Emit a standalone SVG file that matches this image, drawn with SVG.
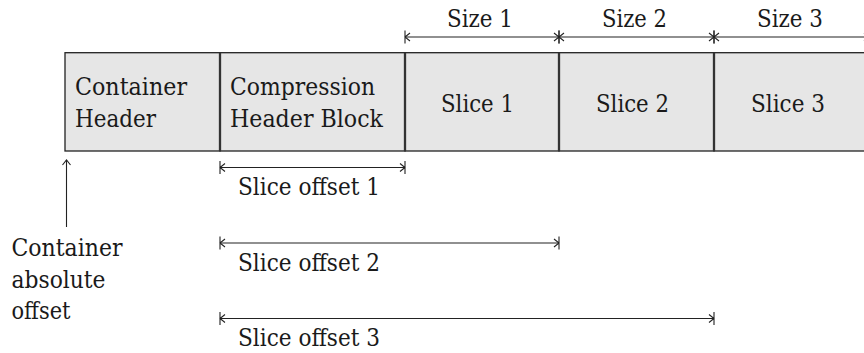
<svg xmlns="http://www.w3.org/2000/svg" width="864" height="353" viewBox="0 0 864 353">
<defs>
<marker id="bartip" markerUnits="userSpaceOnUse" viewBox="-10 -10 20 20" markerWidth="20" markerHeight="20" refX="0" refY="0" orient="auto-start-reverse">
<path d="M0,-6.5 V6.5 M-5,-4 Q-1.5,-1.2 0,0 Q-1.5,1.2 -5,4" fill="none" stroke="#222" stroke-width="1.1"/>
</marker>
<marker id="tip" markerUnits="userSpaceOnUse" viewBox="-10 -10 20 20" markerWidth="20" markerHeight="20" refX="0" refY="0" orient="auto">
<path d="M-5,-4 Q-1.5,-1.2 0,0 Q-1.5,1.2 -5,4" fill="none" stroke="#222" stroke-width="1.1"/>
</marker>
</defs>
<style>
text{font-size:23.5px;fill:#1a1a1a}
.cell{fill:#e6e6e6;stroke:#222;stroke-width:1.3}
.div{stroke:#333;stroke-width:2.3}
.dim{stroke:#222;stroke-width:1.1;fill:none;marker-start:url(#bartip);marker-end:url(#bartip)}
</style>
<rect width="864" height="353" fill="#fff"/>
<g font-family="DejaVu Serif, serif">
<g id="container-header">
<rect class="cell" x="65" y="52.7" width="155" height="98.3"/>
<text x="75" y="95" textLength="112" lengthAdjust="spacingAndGlyphs">Container</text>
<text x="75" y="127.3" textLength="81" lengthAdjust="spacingAndGlyphs">Header</text>
</g>
<g id="compression-header-block">
<rect class="cell" x="220" y="52.7" width="185" height="98.3"/>
<line class="div" x1="220" y1="52.7" x2="220" y2="151"/>
<text x="230" y="95" textLength="145" lengthAdjust="spacingAndGlyphs">Compression</text>
<text x="230" y="127.3" textLength="153" lengthAdjust="spacingAndGlyphs">Header Block</text>
</g>
<g id="slice-1">
<rect class="cell" x="405" y="52.7" width="154" height="98.3"/>
<line class="div" x1="405" y1="52.7" x2="405" y2="151"/>
<text x="441" y="112" textLength="73" lengthAdjust="spacingAndGlyphs">Slice 1</text>
</g>
<g id="slice-2">
<rect class="cell" x="559" y="52.7" width="155" height="98.3"/>
<line class="div" x1="559" y1="52.7" x2="559" y2="151"/>
<text x="596" y="112" textLength="73" lengthAdjust="spacingAndGlyphs">Slice 2</text>
</g>
<g id="slice-3">
<rect class="cell" x="714" y="52.7" width="155" height="98.3"/>
<line class="div" x1="714" y1="52.7" x2="714" y2="151"/>
<text x="751" y="112" textLength="74" lengthAdjust="spacingAndGlyphs">Slice 3</text>
</g>
<g id="connectors">
<line class="dim" x1="405" y1="37" x2="559" y2="37"/>
<line class="dim" x1="559" y1="37" x2="714" y2="37"/>
<line class="dim" x1="714" y1="37" x2="869" y2="37"/>
<line class="dim" x1="220" y1="167.5" x2="405" y2="167.5"/>
<line class="dim" x1="220" y1="243" x2="559" y2="243"/>
<line class="dim" x1="220" y1="318.5" x2="714" y2="318.5"/>
<line x1="66.5" y1="227" x2="66.5" y2="160" stroke="#222" stroke-width="1.1" marker-end="url(#tip)"/>
</g>
<g id="labels">
<text x="447" y="27" textLength="66" lengthAdjust="spacingAndGlyphs">Size 1</text>
<text x="602" y="27" textLength="65" lengthAdjust="spacingAndGlyphs">Size 2</text>
<text x="757" y="27" textLength="66" lengthAdjust="spacingAndGlyphs">Size 3</text>
<text x="238" y="195" textLength="142" lengthAdjust="spacingAndGlyphs">Slice offset 1</text>
<text x="238" y="270.5" textLength="142" lengthAdjust="spacingAndGlyphs">Slice offset 2</text>
<text x="238" y="345.5" textLength="142" lengthAdjust="spacingAndGlyphs">Slice offset 3</text>
</g>
<g id="container-absolute-offset">
<text x="11.5" y="256" textLength="111" lengthAdjust="spacingAndGlyphs">Container</text>
<text x="11.5" y="287.5" textLength="94" lengthAdjust="spacingAndGlyphs">absolute</text>
<text x="11.5" y="319" textLength="59" lengthAdjust="spacingAndGlyphs">offset</text>
</g>
</g>
</svg>
